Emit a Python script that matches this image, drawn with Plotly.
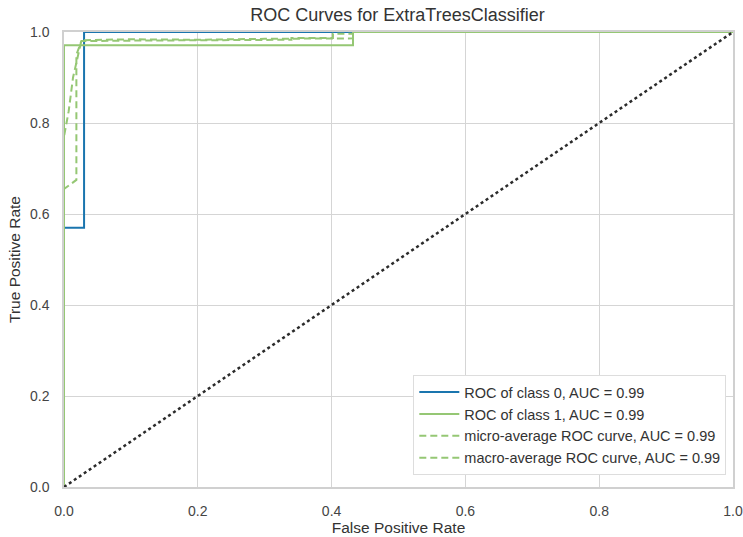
import plotly.graph_objects as go

title = "ROC Curves for ExtraTreesClassifier"

class0_fpr = [0.0, 0.0, 0.030, 0.030, 1.0]
class0_tpr = [0.0, 0.570, 0.570, 1.0, 1.0]
class0_name = "ROC of class 0, AUC = 0.99"

class1_fpr = [0.0, 0.0, 0.432, 0.432, 1.0]
class1_tpr = [0.0, 0.971, 0.971, 1.0, 1.0]
class1_name = "ROC of class 1, AUC = 0.99"

micro_fpr = [0.0, 0.0, 0.007, 0.0135, 0.0235, 0.026, 0.10, 0.20, 0.30, 0.432, 0.432, 1.0]
micro_tpr = [0.0, 0.770, 0.826, 0.900, 0.965, 0.982, 0.984, 0.983, 0.985, 0.986, 1.0, 1.0]
micro_name = "micro-average ROC curve, AUC = 0.99"

macro_fpr = [0.0, 0.0, 0.0085, 0.0185, 0.0185, 0.026, 0.10, 0.20, 0.34, 0.34, 0.402, 0.402, 0.432, 0.432, 1.0]
macro_tpr = [0.0, 0.655, 0.664, 0.675, 0.950, 0.980, 0.981, 0.982, 0.983, 0.987, 0.987, 0.996, 0.996, 1.0, 1.0]
macro_name = "macro-average ROC curve, AUC = 0.99"

diag = [0.0, 1.0]

blue = "#1a75ae"
green = "#95c774"

fig = go.Figure()
fig.add_trace(go.Scatter(x=class0_fpr, y=class0_tpr, mode="lines", name=class0_name,
                         line=dict(color=blue, width=2)))
fig.add_trace(go.Scatter(x=class1_fpr, y=class1_tpr, mode="lines", name=class1_name,
                         line=dict(color=green, width=2)))
fig.add_trace(go.Scatter(x=micro_fpr, y=micro_tpr, mode="lines", name=micro_name,
                         line=dict(color=green, width=2, dash="7px,4px")))
fig.add_trace(go.Scatter(x=macro_fpr, y=macro_tpr, mode="lines", name=macro_name,
                         line=dict(color=green, width=2, dash="7px,4px")))
fig.add_trace(go.Scatter(x=diag, y=diag, mode="lines", showlegend=False,
                         line=dict(color="#2b2b2b", width=2.5, dash="dot")))

axis_common = dict(
    range=[0, 1], tickvals=[0, 0.2, 0.4, 0.6, 0.8, 1.0],
    ticktext=["0.0", "0.2", "0.4", "0.6", "0.8", "1.0"],
    showgrid=True, gridcolor="#d5d5d5", gridwidth=1,
    showline=True, linecolor="#d0d0d0", linewidth=1.5, mirror=True,
    zeroline=False, ticks="", tickfont=dict(size=14, color="#444444"),
    automargin=False,
)

fig.update_layout(
    width=743, height=537,
    margin=dict(l=64, r=10, t=32, b=50),
    paper_bgcolor="white", plot_bgcolor="white",
    font=dict(family="Liberation Sans, Arial, sans-serif", color="#333333"),
    title=dict(text=title, x=(64 + 731) / 2 / 743, xanchor="center", y=1 - 15 / 537,
               yanchor="middle", font=dict(size=18, color="#333333")),
    xaxis=dict(title=dict(text="False Positive Rate", font=dict(size=15.5, color="#333333"), standoff=4),
               ticklabelstandoff=10, **axis_common),
    yaxis=dict(title=dict(text="True Positive Rate", font=dict(size=15.5, color="#333333"), standoff=6),
               ticklabelstandoff=10, **axis_common),
    legend=dict(x=0.99, y=0.026, xanchor="right", yanchor="bottom",
                bgcolor="white", bordercolor="#dddddd", borderwidth=1,
                font=dict(size=14.5, color="#333333"), tracegroupgap=0,
                itemwidth=40),
    showlegend=True,
)

fig.write_html("out.html")
